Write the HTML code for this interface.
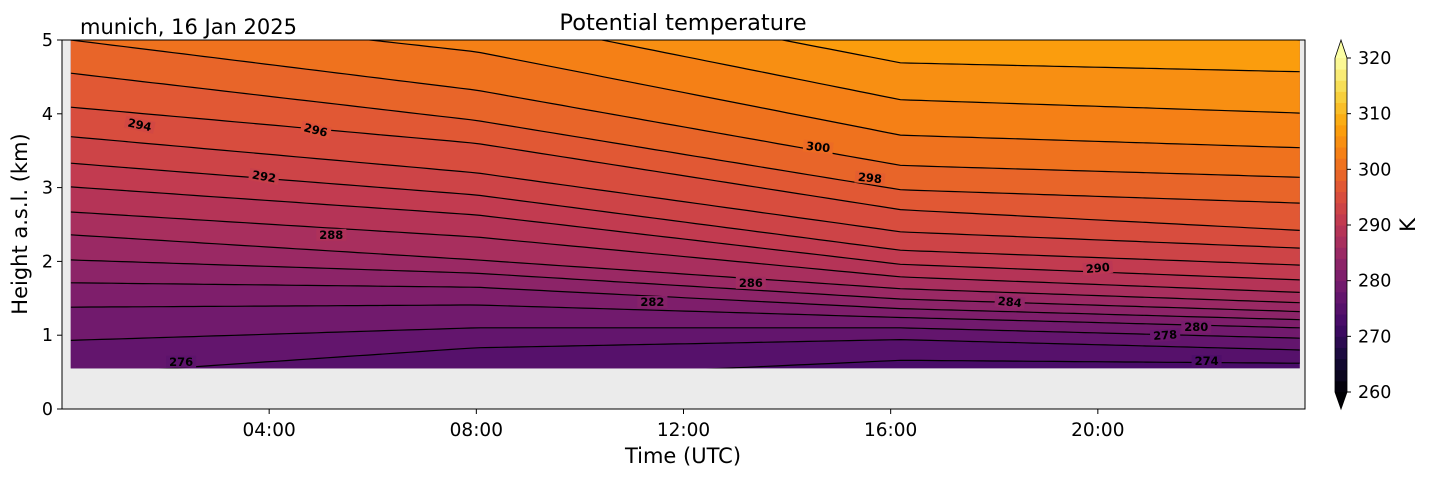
<!DOCTYPE html>
<html><head><meta charset="utf-8">
<style>
body{margin:0;background:#fff;}
svg{display:block;font-family:"DejaVu Sans","Liberation Sans",sans-serif;}
</style></head>
<body>
<svg id="chart" width="1429" height="478" viewBox="0 0 1429 478" xmlns="http://www.w3.org/2000/svg">
<g id="plot"></g>
<g id="axes"></g>
<g id="cbar"></g>
<text x="683" y="30" font-size="22.5" text-anchor="middle" fill="#000">Potential temperature</text>
<text x="80" y="34" font-size="21" fill="#000">munich, 16 Jan 2025</text>
<text x="683" y="463" font-size="21" text-anchor="middle" fill="#000">Time (UTC)</text>
<text transform="translate(27,224) rotate(-90)" font-size="21" text-anchor="middle" fill="#000">Height a.s.l. (km)</text>
<text transform="translate(1415,225) rotate(-90)" font-size="21" text-anchor="middle" fill="#000">K</text>
</svg>
<script>
// ---- data ----
const times = [0.17, 8, 16.2, 23.9]; // hours UTC
const levels = [274,276,278,280,282,284,286,288,290,292,294,296,298,300,302,304,306,308];
// contour heights (km) at each time in `times`, one row per level
const h274 = [0.35,0.40,0.66,0.62];
const h276 = [0.46,0.83,0.94,0.80];
const h278 = [0.93,1.10,1.10,0.96];
const h280 = [1.38,1.41,1.24,1.10];
const h282 = [1.71,1.65,1.36,1.21];
const h284 = [2.02,1.84,1.49,1.32];
const h286 = [2.36,2.02,1.63,1.44];
const h288 = [2.67,2.33,1.79,1.58];
const h290 = [3.01,2.63,1.96,1.75];
const h292 = [3.33,2.90,2.15,1.95];
const h294 = [3.69,3.20,2.40,2.18];
const h296 = [4.09,3.60,2.70,2.42];
const h298 = [4.55,3.91,2.97,2.79];
const h300 = [5.00,4.32,3.30,3.14];
const h302 = [5.45,4.84,3.71,3.54];
const h304 = [5.90,5.34,4.19,4.01];
const h306 = [6.30,5.80,4.69,4.57];
const h308 = [6.70,6.30,5.20,5.00];
const heights = [h274,h276,h278,h280,h282,h284,h286,h288,h290,h292,h294,h296,h298,h300,h302,h304,h306,h308];
const labelLevels = [276,294,296,292,288,282,286,300,298,284,290,278,280,274];
const labelTimes  = [2.3,1.5,4.9,3.9,5.2,11.4,13.3,14.6,15.6,18.3,20.0,21.3,21.9,22.1];
const labelHeights= [0.64,3.85,3.78,3.15,2.36,1.45,1.71,3.55,3.13,1.45,1.91,1.00,1.11,0.65];
const rotations   = [0,12,14,10,0,0,0,6,6,6,-5,-4,0,0];
const xTickVals = [4,8,12,16,20];
const xTickText = ["04:00","08:00","12:00","16:00","20:00"];
const yTickVals = [0,1,2,3,4,5];
const cbTicks = [260,270,280,290,300,310,320];

// ---- scales ----
const X0=62,X1=1305,Y0=409,Y1=40;
const xS=t=>X0+(t/24)*(X1-X0);
const yS=h=>Y0-(h/5)*(Y0-Y1);
const cbY=v=>392-(v-260)/60*(392-58);
const NS="http://www.w3.org/2000/svg";
function mk(tag,attrs,parent){const e=document.createElementNS(NS,tag);for(const k in attrs)e.setAttribute(k,attrs[k]);parent.appendChild(e);return e;}
const stops=[[0,[0,0,4]],[.1,[22,11,57]],[.2,[66,10,104]],[.3,[106,23,110]],[.4,[147,38,103]],[.5,[188,55,84]],[.6,[221,81,58]],[.7,[243,120,25]],[.8,[252,165,10]],[.9,[246,215,70]],[1,[252,255,164]]];
function inferno(v){let f=Math.max(0,Math.min(1,(v-260)/60));for(let i=1;i<stops.length;i++){if(f<=stops[i][0]){const a=stops[i-1],b=stops[i];const u=(f-a[0])/(b[0]-a[0]);const c=a[1].map((x,j)=>Math.round(x+(b[1][j]-x)*u));return `rgb(${c[0]},${c[1]},${c[2]})`;}}return "rgb(252,255,164)";}
function interpH(arr,t){for(let i=1;i<times.length;i++){if(t<=times[i]){const u=(t-times[i-1])/(times[i]-times[i-1]);return arr[i-1]+(arr[i]-arr[i-1])*u;}}return arr[arr.length-1];}

const plot=document.getElementById('plot');
const bg=mk('rect',{x:X0,y:Y1,width:X1-X0,height:Y0-Y1,fill:'#ebebeb'},plot);


mk('clipPath',{id:'dc'},plot);
const cp=plot.querySelector('#dc');
mk('rect',{x:xS(times[0]),y:Y1,width:xS(times[times.length-1])-xS(times[0]),height:yS(0.55)-Y1},cp);
const field=mk('g',{'clip-path':'url(#dc)'},plot);


const N=120;const ts=[];for(let i=0;i<=N;i++)ts.push(times[0]+(times[times.length-1]-times[0])*i/N);
function curve(arr){return ts.map(t=>[xS(t),yS(interpH(arr,t))]);}
const base=mk('rect',{x:X0,y:Y1,width:X1-X0,height:Y0-Y1,fill:inferno(273)},field);


for(let k=0;k<levels.length;k++){
  const lo=curve(heights[k]);
  const hi=k+1<levels.length?curve(heights[k+1]):ts.map(t=>[xS(t),0]);
  const pts=lo.concat(hi.slice().reverse()).map(p=>p[0].toFixed(1)+','+p[1].toFixed(1)).join(' ');
  const band=mk('polygon',{points:pts,fill:inferno(levels[k]+1),stroke:inferno(levels[k]+1),'stroke-width':0.6},field);
  
  
}
for(let k=0;k<levels.length;k++){
  const d='M'+curve(heights[k]).map(p=>p[0].toFixed(1)+','+p[1].toFixed(1)).join(' L');
  const ln=mk('path',{d:d,fill:'none',stroke:'#000','stroke-width':1.2},field);
  
  
}
for(let i=0;i<labelLevels.length;i++){
  const x=xS(labelTimes[i]),y=yS(labelHeights[i]);
  const gap=mk('rect',{x:x-15,y:y-6,width:30,height:12,fill:inferno(labelLevels[i]),transform:`rotate(${rotations[i]} ${x} ${y})`},field);
  
  
  const tx=mk('text',{x:x,y:y+4,'font-size':11.5,'font-weight':'bold','text-anchor':'middle',fill:'#000',transform:`rotate(${rotations[i]} ${x} ${y})`},field);
  tx.textContent=labelLevels[i];
  
  
}

// ---- axes ----
const ax=document.getElementById('axes');
const frame=mk('rect',{x:X0,y:Y1,width:X1-X0,height:Y0-Y1,fill:'none',stroke:'#000','stroke-width':1},ax);


xTickVals.forEach((v,i)=>{
  const x=xS(v);
  const t=mk('line',{x1:x,x2:x,y1:Y0,y2:Y0+5,stroke:'#000'},ax);
  
  
  const l=mk('text',{x:x,y:436,'font-size':18.5,'text-anchor':'middle'},ax);
  l.textContent=xTickText[i];
  
  
});
yTickVals.forEach(v=>{
  const y=yS(v);
  const t=mk('line',{x1:X0-5,x2:X0,y1:y,y2:y,stroke:'#000'},ax);
  
  
  const l=mk('text',{x:X0-9,y:y+6,'font-size':17.5,'text-anchor':'end'},ax);
  l.textContent=v;
  
  
});

// ---- colorbar ----
const cb=document.getElementById('cbar');
const CX0=1335,CX1=1347;
for(let v=260;v<320;v+=2){
  const r=mk('rect',{x:CX0,y:cbY(v+2),width:CX1-CX0,height:cbY(v)-cbY(v+2)+0.5,fill:inferno(v+1)},cb);
  
  
}
const tt=mk('polygon',{points:`${CX0},${cbY(320)} ${CX1},${cbY(320)} ${(CX0+CX1)/2},40`,fill:inferno(320)},cb);


const tb=mk('polygon',{points:`${CX0},${cbY(260)} ${CX1},${cbY(260)} ${(CX0+CX1)/2},409`,fill:inferno(259)},cb);


const ol=mk('path',{d:`M${CX0},${cbY(320)} L${(CX0+CX1)/2},40 L${CX1},${cbY(320)} L${CX1},${cbY(260)} L${(CX0+CX1)/2},409 L${CX0},${cbY(260)} Z`,fill:'none',stroke:'#000','stroke-width':0.8},cb);


cbTicks.forEach(v=>{
  const y=cbY(v);
  const t=mk('line',{x1:CX1,x2:CX1+4,y1:y,y2:y,stroke:'#000'},cb);
  
  
  const l=mk('text',{x:CX1+11,y:y+6,'font-size':17.5},cb);
  l.textContent=v;
  
  
});
</script>
</body></html>
